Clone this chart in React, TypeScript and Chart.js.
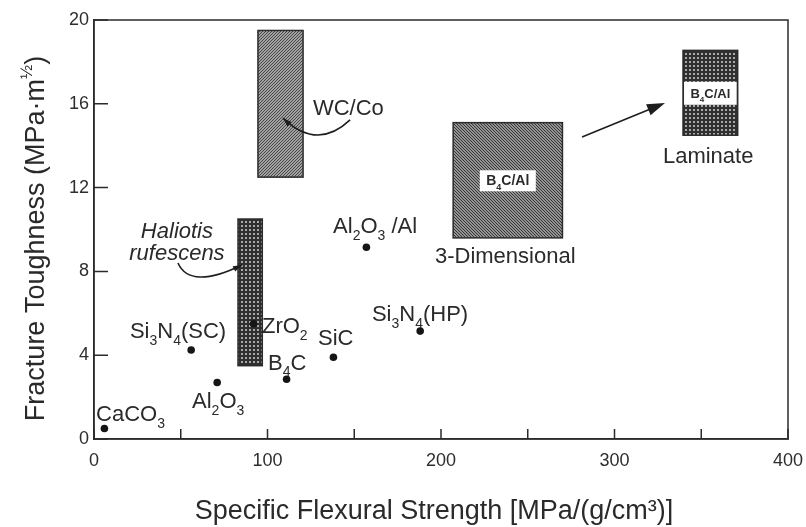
import React, { useEffect, useRef } from 'react';
import { Chart, registerables } from 'chart.js';

Chart.register(...registerables);

// ---------------- data ----------------
const materialNames = ['CaCO_3', 'Si_3N_4(SC)', 'Al_2O_3', 'ZrO_2', 'B_4C', 'SiC', 'Si_3N_4(HP)', 'Al_2O_3 /Al'];
const specificStrength = [6, 56, 71, 92, 111, 138, 188, 157];
const fractureToughness = [0.5, 4.25, 2.7, 5.5, 2.85, 3.9, 5.15, 9.15];

const regionNames = ['Haliotis rufescens', 'WC/Co', 'B_4C/Al (3-Dimensional)', 'B_4C/Al (Laminate)'];
const regionStrengthMin = [83, 94.5, 207, 339.5];
const regionStrengthMax = [97, 120.5, 270, 371];
const regionToughnessMin = [3.5, 12.5, 9.6, 14.5];
const regionToughnessMax = [10.5, 19.5, 15.1, 18.55];

const xTickMarks = [0, 50, 100, 150, 200, 250, 300, 350, 400];
const xTickLabels = [0, 100, 200, 300, 400];
const yTickMarks = [0, 4, 8, 12, 16, 20];

const xTitle = 'Specific Flexural Strength [MPa/(g/cm³)]';
const yTitle = 'Fracture Toughness (MPa·m^½)';

// ---------------- annotation layout (data coordinates) ----------------
const labelLayout = [
  { text: 'CaCO_3', x: 1.2, y: 1.24 },
  { text: 'Si_3N_4(SC)', x: 20.7, y: 5.2 },
  { text: 'Al_2O_3', x: 56.5, y: 1.86 },
  { text: 'ZrO_2', x: 96.8, y: 5.44 },
  { text: 'B_4C', x: 100.3, y: 3.68 },
  { text: 'SiC', x: 129.1, y: 4.87 },
  { text: 'Si_3N_4(HP)', x: 160.2, y: 6.01 },
  { text: 'Al_2O_3 /Al', x: 137.8, y: 10.21 },
  { text: 'WC/Co', x: 126.2, y: 15.85 },
  { text: 'Haliotis', x: 47.8, y: 9.98, center: true, italic: true },
  { text: 'rufescens', x: 47.8, y: 8.93, center: true, italic: true },
  { text: '3-Dimensional', x: 196.5, y: 8.78 },
  { text: 'Laminate', x: 327.9, y: 13.56 },
];
const curvedArrows = [
  { from: [147.6, 15.23], ctrl: [128.8, 13.75], to: [108.9, 15.32], head: 9 },
  { from: [48.4, 8.4], ctrl: [55.3, 7.11], to: [85.3, 8.31], head: 9 },
];
const straightArrows = [{ from: [281.3, 14.42], to: [329.1, 16.04], head: 18 }];

const FAMILY = '"Liberation Sans", Arial, Helvetica, sans-serif';
const INK = '#2a2a2a';

function drawRich(ctx: CanvasRenderingContext2D, text: string, x: number, y: number, size: number, center = false, italic = false, bold = false) {
  const segs: { t: string; k: string }[] = [];
  for (let i = 0; i < text.length; i++) {
    const c = text[i];
    if ((c === '_' || c === '^') && i + 1 < text.length) {
      segs.push({ t: text[i + 1], k: c === '_' ? 'sub' : 'sup' });
      i++;
    } else if (segs.length && segs[segs.length - 1].k === 'n') {
      segs[segs.length - 1].t += c;
    } else {
      segs.push({ t: c, k: 'n' });
    }
  }
  const st = (italic ? 'italic ' : '') + (bold ? 'bold ' : '');
  const fontFor = (k: string) => `${st}${k === 'n' ? size : Math.round(size * 0.62)}px ${FAMILY}`;
  let total = 0;
  const widths = segs.map((s) => {
    ctx.font = fontFor(s.k);
    const w = ctx.measureText(s.t).width;
    total += w;
    return w;
  });
  let cx = center ? x - total / 2 : x;
  const base = y + size * 0.36;
  ctx.textAlign = 'left';
  ctx.textBaseline = 'alphabetic';
  segs.forEach((s, i) => {
    ctx.font = fontFor(s.k);
    const dy = s.k === 'sub' ? size * 0.3 : s.k === 'sup' ? -size * 0.42 : 0;
    ctx.fillText(s.t, cx, base + dy);
    cx += widths[i];
  });
  return total;
}

function makePattern(kind: string): CanvasPattern | string {
  const c = document.createElement('canvas');
  const n = kind === 'grid' ? 4 : 3;
  c.width = n;
  c.height = n;
  const g = c.getContext('2d');
  if (!g) return '#777';
  if (kind === 'grid') {
    g.fillStyle = '#303030';
    g.fillRect(0, 0, n, n);
    g.fillStyle = '#a9a9a9';
    g.fillRect(1, 1, 2, 2);
  } else {
    g.fillStyle = kind === 'fwd' ? '#a2a2a2' : '#939393';
    g.fillRect(0, 0, n, n);
    g.strokeStyle = kind === 'fwd' ? '#474747' : '#363636';
    g.lineWidth = 1;
    g.beginPath();
    if (kind === 'fwd') {
      g.moveTo(-1, n + 1); g.lineTo(n + 1, -1);
      g.moveTo(-1, 1); g.lineTo(1, -1);
      g.moveTo(n - 1, n + 1); g.lineTo(n + 1, n - 1);
    } else {
      g.moveTo(-1, -1); g.lineTo(n + 1, n + 1);
      g.moveTo(n - 1, -1); g.lineTo(n + 1, 1);
      g.moveTo(-1, n - 1); g.lineTo(1, n + 1);
    }
    g.stroke();
  }
  const p = g.createPattern(c, 'repeat');
  return p || '#777';
}

function arrowHead(ctx: CanvasRenderingContext2D, tx: number, ty: number, dx: number, dy: number, len: number) {
  const d = Math.hypot(dx, dy) || 1;
  const ux = dx / d, uy = dy / d;
  const w = len * 0.33;
  ctx.beginPath();
  ctx.moveTo(tx, ty);
  ctx.lineTo(tx - ux * len - uy * w, ty - uy * len + ux * w);
  ctx.lineTo(tx - ux * len + uy * w, ty - uy * len - ux * w);
  ctx.closePath();
  ctx.fill();
}

export default function App() {
  const ref = useRef<HTMLCanvasElement | null>(null);

  useEffect(() => {
    document.body.style.margin = '0';
    const canvas = ref.current;
    if (!canvas) return;

    const fills = [makePattern('grid'), makePattern('fwd'), makePattern('back'), makePattern('grid')];

    const plugin = {
      id: 'materialsOverlay',
      beforeDatasetsDraw(chart: any) {
        const { ctx, scales } = chart;
        const xs = scales.x, ys = scales.y;
        ctx.save();
        regionNames.forEach((_, i) => {
          const x1 = xs.getPixelForValue(regionStrengthMin[i]);
          const x2 = xs.getPixelForValue(regionStrengthMax[i]);
          const y1 = ys.getPixelForValue(regionToughnessMax[i]);
          const y2 = ys.getPixelForValue(regionToughnessMin[i]);
          ctx.fillStyle = fills[i];
          ctx.fillRect(x1, y1, x2 - x1, y2 - y1);
          ctx.strokeStyle = '#2b2b2b';
          ctx.lineWidth = 1.5;
          ctx.strokeRect(x1, y1, x2 - x1, y2 - y1);
        });
        // inner labels of the B4C/Al regions
        {
          const i = 2;
          const cx = (xs.getPixelForValue(regionStrengthMin[i]) + xs.getPixelForValue(regionStrengthMax[i])) / 2;
          const cy = (ys.getPixelForValue(regionToughnessMin[i]) + ys.getPixelForValue(regionToughnessMax[i])) / 2;
          const w = 50;
          ctx.fillStyle = '#ffffff';
          ctx.fillRect(cx - w / 2 - 3, cy - 10, w + 6, 21);
          ctx.fillStyle = INK;
          drawRich(ctx, 'B_4C/Al', cx, cy, 14, true, false, true);
        }
        {
          const i = 3;
          const x1 = xs.getPixelForValue(regionStrengthMin[i]);
          const x2 = xs.getPixelForValue(regionStrengthMax[i]);
          const cy = (ys.getPixelForValue(regionToughnessMin[i]) + ys.getPixelForValue(regionToughnessMax[i])) / 2;
          ctx.fillStyle = '#ffffff';
          ctx.fillRect(x1 + 1, cy - 11, x2 - x1 - 2, 23);
          ctx.fillStyle = INK;
          drawRich(ctx, 'B_4C/Al', (x1 + x2) / 2, cy + 1, 13, true, false, true);
        }
        ctx.restore();
      },
      afterDatasetsDraw(chart: any) {
        const { ctx, scales, chartArea } = chart;
        const xs = scales.x, ys = scales.y;
        const P = (v: number[]) => [xs.getPixelForValue(v[0]), ys.getPixelForValue(v[1])];
        ctx.save();
        // frame
        ctx.strokeStyle = '#2b2b2b';
        ctx.lineWidth = 1.5;
        ctx.strokeRect(chartArea.left, chartArea.top, chartArea.right - chartArea.left, chartArea.bottom - chartArea.top);
        // inward ticks
        ctx.beginPath();
        xs.ticks.forEach((t: any) => {
          const px = xs.getPixelForValue(t.value);
          ctx.moveTo(px, chartArea.bottom);
          ctx.lineTo(px, chartArea.bottom - 10);
        });
        ys.ticks.forEach((t: any) => {
          const py = ys.getPixelForValue(t.value);
          ctx.moveTo(chartArea.left, py);
          ctx.lineTo(chartArea.left + 14, py);
        });
        ctx.stroke();
        // arrows
        ctx.fillStyle = '#1e1e1e';
        ctx.strokeStyle = '#1e1e1e';
        ctx.lineWidth = 1.6;
        curvedArrows.forEach((a) => {
          const [fx, fy] = P(a.from), [cx, cy] = P(a.ctrl), [tx, ty] = P(a.to);
          ctx.beginPath();
          ctx.moveTo(fx, fy);
          ctx.quadraticCurveTo(cx, cy, tx, ty);
          ctx.stroke();
          arrowHead(ctx, tx, ty, tx - cx, ty - cy, a.head);
        });
        straightArrows.forEach((a) => {
          const [fx, fy] = P(a.from), [tx, ty] = P(a.to);
          const d = Math.hypot(tx - fx, ty - fy);
          ctx.beginPath();
          ctx.moveTo(fx, fy);
          ctx.lineTo(tx - ((tx - fx) / d) * a.head * 0.8, ty - ((ty - fy) / d) * a.head * 0.8);
          ctx.stroke();
          arrowHead(ctx, tx, ty, tx - fx, ty - fy, a.head);
        });
        // labels
        ctx.fillStyle = INK;
        labelLayout.forEach((l) => {
          const [px, py] = P([l.x, l.y]);
          drawRich(ctx, l.text, px, py, 22, !!l.center, !!l.italic);
        });
        // axis titles
        drawRich(ctx, xTitle, (chartArea.left + chartArea.right) / 2 - 7, chartArea.bottom + 70, 27, true);
        ctx.translate(34, (chartArea.top + chartArea.bottom) / 2 + 9);
        ctx.rotate(-Math.PI / 2);
        drawRich(ctx, yTitle, 0, 0, 27, true);
        ctx.restore();
      },
    };

    const tickFont = { family: FAMILY, size: 18 };

    const chart = new Chart(canvas, {
      type: 'scatter',
      data: {
        datasets: [
          {
            label: 'Materials',
            data: materialNames.map((_, i) => ({ x: specificStrength[i], y: fractureToughness[i] })),
            pointRadius: 3.8,
            pointHoverRadius: 3.8,
            backgroundColor: '#151515',
            borderColor: '#151515',
            borderWidth: 0,
          },
        ],
      },
      options: {
        animation: false,
        responsive: false,
        devicePixelRatio: 1,
        layout: { padding: { top: 20, right: 18, left: 0, bottom: 0 } },
        plugins: { legend: { display: false }, tooltip: { enabled: false }, title: { display: false } },
        scales: {
          x: {
            type: 'linear',
            min: 0,
            max: 400,
            afterBuildTicks: (scale: any) => {
              scale.ticks = xTickMarks.map((v) => ({ value: v }));
            },
            ticks: {
              autoSkip: false,
              maxRotation: 0,
              padding: 11,
              color: '#2e2e2e',
              font: tickFont,
              callback: (v: any) => (xTickLabels.includes(Number(v)) ? String(v) : ''),
            },
            grid: { display: false, drawTicks: false },
            border: { display: true, color: '#2b2b2b', width: 1.5 },
            afterFit: (scale: any) => {
              scale.height = 88;
              scale.paddingLeft = 0;
              scale.paddingRight = 0;
            },
          },
          y: {
            type: 'linear',
            min: 0,
            max: 20,
            afterBuildTicks: (scale: any) => {
              scale.ticks = yTickMarks.map((v) => ({ value: v }));
            },
            ticks: { padding: 5, color: '#2e2e2e', font: tickFont },
            grid: { display: false, drawTicks: false },
            border: { display: true, color: '#2b2b2b', width: 1.5 },
            afterFit: (scale: any) => {
              scale.width = 94;
              scale.paddingTop = 0;
              scale.paddingBottom = 0;
            },
          },
        },
      },
      plugins: [plugin],
    } as any);

    return () => chart.destroy();
  }, []);

  return (
    <div style={{ position: 'fixed', left: 0, top: 0, width: 806, height: 527, background: '#fff' }}>
      <canvas ref={ref} width={806} height={527} style={{ display: 'block' }} />
    </div>
  );
}
